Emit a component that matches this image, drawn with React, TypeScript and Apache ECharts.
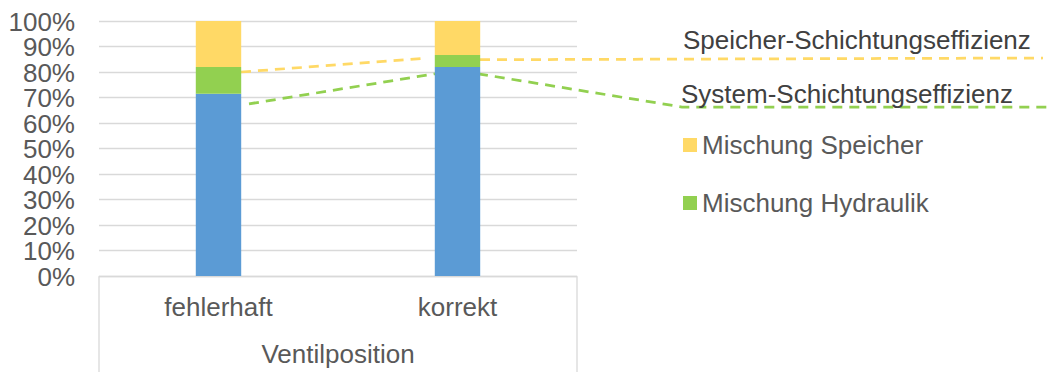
import React, { useEffect, useRef } from "react";
import * as echarts from "echarts";

const categories = ["fehlerhaft", "korrekt"];
const schichtung = [71.5, 82];
const mischungHydraulik = [10.5, 4.7];
const mischungSpeicher = [18, 13.3];
const speicherEffizienz = [80, 85.4];
const systemEffizienz = [67.5, 79.3];
const yTicks = [0, 10, 20, 30, 40, 50, 60, 70, 80, 90, 100];
const yTickLabels = ["0%", "10%", "20%", "30%", "40%", "50%", "60%", "70%", "80%", "90%", "100%"];

const FONT = "'Liberation Sans', Arial, sans-serif";
const BLUE = "#5B9BD5";
const GREEN = "#92D050";
const YELLOW = "#FFD966";
const GRID = { left: 99, right: 474, top: 21, bottom: 95 };

export default function App() {
  const ref = useRef<HTMLDivElement>(null);
  useEffect(() => {
    if (!ref.current) return;
    const chart = echarts.init(ref.current, null, { renderer: "svg" });
    const option: any = {
      animation: false,
      textStyle: { fontFamily: FONT },
      grid: GRID,
      legend: {
        orient: "vertical",
        left: 683,
        top: 132,
        padding: 0,
        itemWidth: 14,
        itemHeight: 14,
        itemGap: 32,
        icon: "rect",
        data: ["Mischung Speicher", "Mischung Hydraulik"],
        textStyle: { fontFamily: FONT, fontSize: 26, color: "#595959", lineHeight: 26 },
        selectedMode: false,
      },
      xAxis: {
        type: "category",
        data: categories,
        name: "Ventilposition",
        nameLocation: "middle",
        nameGap: 65,
        nameTextStyle: { fontFamily: FONT, fontSize: 26, color: "#595959", lineHeight: 26 },
        axisLine: { lineStyle: { color: "#d9d9d9", width: 1.3 } },
        axisTick: { show: false },
        axisLabel: { fontFamily: FONT, fontSize: 26, color: "#595959", margin: 18, lineHeight: 26 },
      },
      yAxis: {
        type: "value",
        min: yTicks[0],
        max: yTicks[yTicks.length - 1],
        interval: yTicks[1] - yTicks[0],
        axisLine: { show: false },
        axisTick: { show: false },
        splitLine: { lineStyle: { color: "#d9d9d9", width: 1.3 } },
        axisLabel: { show: false },
      },
      series: [
        {
          name: "Schichtung",
          type: "bar",
          stack: "a",
          barWidth: "19%",
          data: schichtung,
          itemStyle: { color: BLUE },
        },
        {
          name: "Mischung Hydraulik",
          type: "bar",
          stack: "a",
          data: mischungHydraulik,
          itemStyle: { color: GREEN },
        },
        {
          name: "Mischung Speicher",
          type: "bar",
          stack: "a",
          data: mischungSpeicher,
          itemStyle: { color: YELLOW },
        },
      ],
    };
    chart.setOption(option);

    const p = (i: number, v: number) => chart.convertToPixel({ gridIndex: 0 }, [i, v]) as number[];
    const y1 = p(0, speicherEffizienz[0]);
    const y2 = p(1, speicherEffizienz[1]);
    const g1 = p(0, systemEffizienz[0]);
    const g2 = p(1, systemEffizienz[1]);
    const half = 22.5;
    const dashY = { stroke: YELLOW, lineWidth: 2.75, lineDash: [10, 7], fill: null };
    const dashG = { stroke: GREEN, lineWidth: 2.75, lineDash: [10, 7], fill: null };
    const H = 372;
    const leftX = GRID.left;
    const rightX = 1051 - GRID.right;
    const tickTexts = yTicks.map((v, i) => ({
      type: "text",
      silent: true,
      x: GRID.left - 24,
      y: (chart.convertToPixel({ yAxisIndex: 0 }, v) as number) + 0.5,
      style: {
        text: yTickLabels[i],
        fontFamily: FONT,
        fontSize: 26,
        lineHeight: 22,
        fill: "#595959",
        align: "right",
        verticalAlign: "middle",
      },
    }));
    chart.setOption({
      graphic: [
        ...tickTexts,
        { type: "line", silent: true, shape: { x1: leftX, y1: 277, x2: leftX, y2: H }, style: { stroke: "#d9d9d9", lineWidth: 1.3 } },
        { type: "line", silent: true, shape: { x1: rightX, y1: 277, x2: rightX, y2: H }, style: { stroke: "#d9d9d9", lineWidth: 1.3 } },
        { type: "polyline", silent: true, shape: { points: [[y1[0] + half, y1[1]], [y2[0] - half - 8, y2[1]]] }, style: dashY },
        { type: "polyline", silent: true, shape: { points: [[y2[0] + half, y2[1] + 1.5], [1043, 58]] }, style: dashY },
        { type: "polyline", silent: true, shape: { points: [[g1[0] + half + 8, g1[1]], [g2[0] - half, g2[1]]] }, style: dashG },
        { type: "polyline", silent: true, shape: { points: [[g2[0] + half - 2, g2[1]], [682, 107], [1051, 107]] }, style: dashG },
        {
          type: "text", silent: true, x: 683, y: 40,
          style: { text: "Speicher-Schichtungseffizienz", fontFamily: FONT, fontSize: 26, fill: "#404040", verticalAlign: "middle", align: "left" },
        },
        {
          type: "text", silent: true, x: 681, y: 94,
          style: { text: "System-Schichtungseffizienz", fontFamily: FONT, fontSize: 26, fill: "#404040", verticalAlign: "middle", align: "left" },
        },
      ],
    });
    return () => chart.dispose();
  }, []);
  return (
    <div
      ref={ref}
      style={{ position: "fixed", left: 0, top: 0, width: 1051, height: 372, background: "#fff" }}
    />
  );
}
